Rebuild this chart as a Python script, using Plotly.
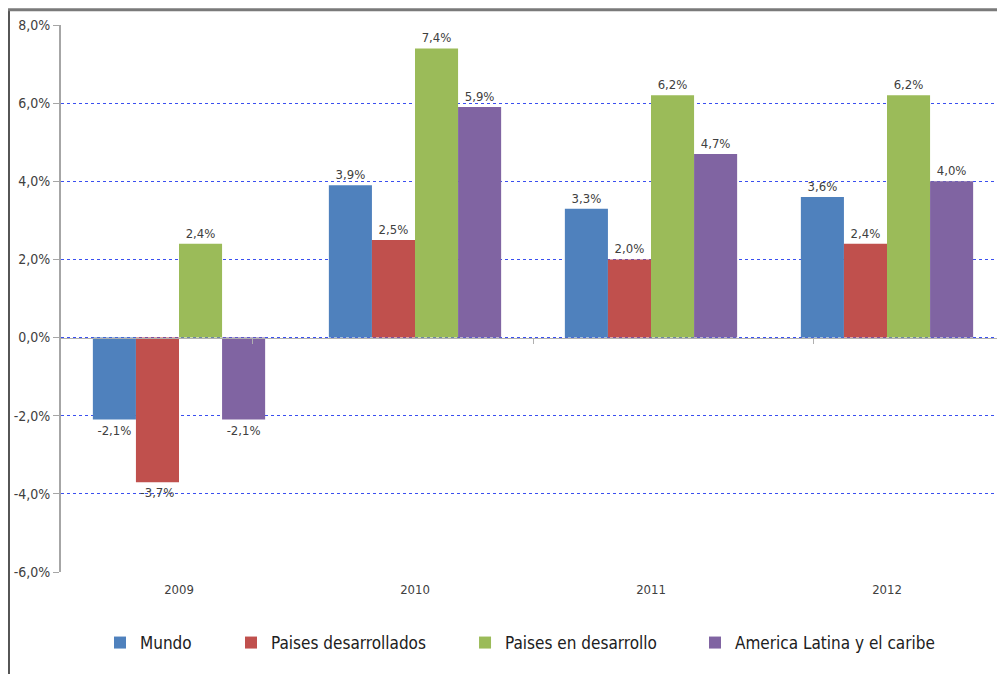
import plotly.graph_objects as go

years = ["2009", "2010", "2011", "2012"]
series_names = ["Mundo", "Paises desarrollados", "Paises en desarrollo", "America Latina y el caribe"]
mundo = [-2.1, 3.9, 3.3, 3.6]
desarrollados = [-3.7, 2.5, 2.0, 2.4]
en_desarrollo = [2.4, 7.4, 6.2, 6.2]
america_latina = [-2.1, 5.9, 4.7, 4.0]
colors = ["#4f81bd", "#c0504d", "#9bbb59", "#8064a2"]
y_ticks = [-6, -4, -2, 0, 2, 4, 6, 8]

# legend placement (paper x of each legend box)
legend_x = [0.0413, 0.1801, 0.4280, 0.6716]
legend_ids = ["legend", "legend2", "legend3", "legend4"]

def fmt(v):
    return f"{v:.1f}%".replace(".", ",")

LABEL_FONT = "DejaVu Sans Condensed, DejaVu Sans"

fig = go.Figure()
for name, vals, col, lid in zip(series_names, [mundo, desarrollados, en_desarrollo, america_latina], colors, legend_ids):
    fig.add_trace(go.Bar(
        x=years, y=vals, name=name, marker=dict(color=col, line=dict(width=0)),
        text=[fmt(v) for v in vals], textposition="outside", cliponaxis=False,
        textfont=dict(family=LABEL_FONT, size=13, color="#404040"),
        legend=lid,
    ))

# invisible trace to carry the category axis drawn at zero
fig.add_trace(go.Scatter(x=years, y=[0]*len(years), xaxis="x2", yaxis="y",
                         mode="markers", marker=dict(opacity=0), showlegend=False,
                         hoverinfo="skip"))

legend_style = dict(orientation="h", y=-0.1298, yanchor="middle", xanchor="left",
                    font=dict(family="DejaVu Sans Condensed, DejaVu Sans", size=17, color="#202020"),
                    itemwidth=30, bgcolor="rgba(0,0,0,0)")

layout_legends = {lid: dict(x=lx, **legend_style) for lid, lx in zip(legend_ids, legend_x)}

fig.update_layout(
    width=997, height=666,
    margin=dict(l=53, r=0, t=17, b=102),
    paper_bgcolor="white", plot_bgcolor="white",
    barmode="group", bargap=0.27, bargroupgap=0,
    font=dict(family=LABEL_FONT, size=13, color="#404040"),
    xaxis=dict(type="category", showline=False, showgrid=False, zeroline=False,
               ticks="", tickfont=dict(size=13, color="#404040"), ticklabelstandoff=8),
    xaxis2=dict(type="category", overlaying="x", anchor="free", position=6/14,
                showline=True, linecolor="#b0b0b0", linewidth=1, ticks="outside",
                tickson="boundaries", ticklen=5, tickcolor="#b0b0b0",
                showticklabels=False, showgrid=False, zeroline=False),
    yaxis=dict(range=[-6, 8], tickvals=y_ticks, ticktext=[fmt(v) for v in y_ticks],
               showgrid=True, gridcolor="#3a4ff0", griddash="dot", gridwidth=1,
               zeroline=False, showline=True, linecolor="#a6a6a6", linewidth=2,
               ticks="outside", ticklen=6, tickcolor="#a6a6a6",
               tickfont=dict(size=14, color="#404040")),
    shapes=[
        dict(type="line", xref="paper", yref="paper", x0=-0.0551, x1=-0.0551, y0=1.028, y1=-0.3,
             line=dict(color="#555555", width=2)),
        dict(type="line", xref="paper", yref="paper", x0=-0.0561, x1=1.1, y0=1.028, y1=1.028,
             line=dict(color="#7a7a7a", width=3)),
    ],
    **layout_legends,
)

fig.write_html("out.html")
